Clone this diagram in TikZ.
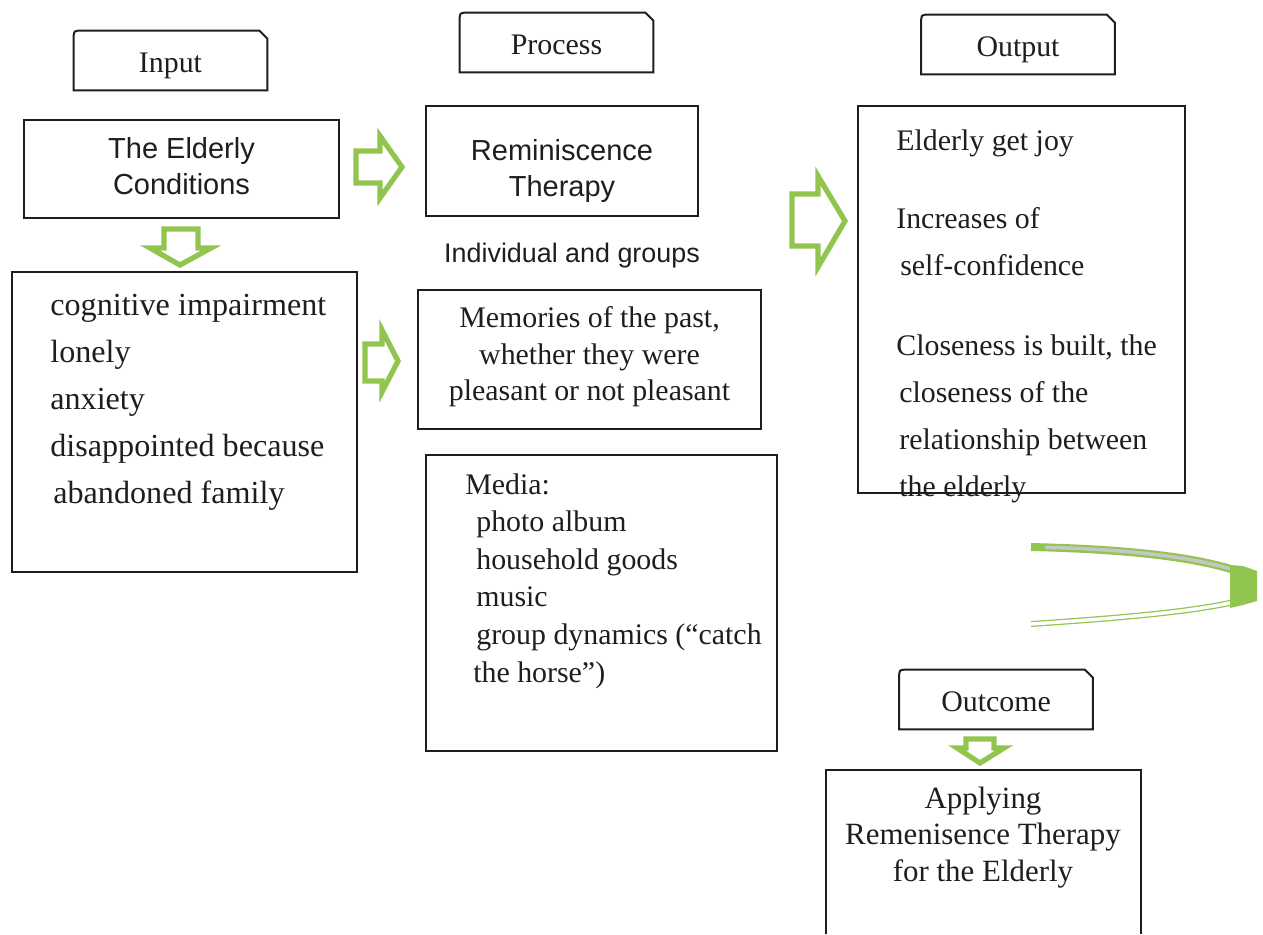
\documentclass[tikz,border=0pt]{standalone}
\usepackage{fontspec}
\setmainfont{Liberation Serif}
\setsansfont{Liberation Sans}
\definecolor{leaf}{RGB}{146,196,80}
\definecolor{ink}{RGB}{30,30,30}
\tikzset{box/.style = {draw, line width = 0.04cm, inner sep = 0}}
\tikzset{tab/.style = {inner sep = 0, minimum width = 3.86cm, minimum height = 1.18cm,
                       text height = 17.5pt, text depth = 3.7pt,
                       font = \fontsize{17}{21}\selectfont}}
\tikzset{hollow/.style = {draw = leaf, line width = 0.105cm, line join = miter}}
\tikzset{sans/.style = {font = \sffamily\fontsize{16.5}{20.5}\selectfont, align = center}}
\tikzset{list/.style = {inner sep = 0, align = left, anchor = north west}}
\newcommand{\tabframe}[1]{\draw [line width = 0.04cm] (#1.south west) -- ([yshift = -0.16cm]#1.north west)
  .. controls (#1.north west) .. ([xshift = 0.16cm]#1.north west) -- ([xshift = -0.16cm]#1.north east)
  -- ([yshift = -0.16cm]#1.north east) -- (#1.south east) -- cycle;}

\begin{document}
\begin{tikzpicture}[x = 0.02cm, y = -0.02cm, color = ink]
  \useasboundingbox (0, 0) rectangle (1263, 934);

  % headers
  \node [tab] (input) at (170.5, 60.5) {Input};
  \tabframe{input}
  \node [tab] (process) at (556.5, 42.5) {Process};
  \tabframe{process}
  \node [tab] (output) at (1018, 44.5) {Output};
  \tabframe{output}
  \node [tab] (outcome) at (996, 699.5) {Outcome};
  \tabframe{outcome}

  % input column
  \node [box, sans, minimum width = 6.3cm, minimum height = 1.96cm] (elderly) at (181.5, 169) {};
  \node [sans] (elderlytext) at (181.5, 166) {The Elderly\\Conditions};
  \node [box, minimum width = 6.9cm, minimum height = 6cm] (symptoms) at (184.5, 422) {};
  \node [list, font = \fontsize{18.3}{26.7}\selectfont] (symptomlist) at (50, 294)
    {cognitive impairment\\lonely\\anxiety\\disappointed because\\\hspace*{0.06cm}abandoned family};

  % process column
  \node [box, minimum width = 5.44cm, minimum height = 2.2cm] (therapy) at (562, 161) {};
  \node [sans] (therapytext) at (562, 171) {Reminiscence\\Therapy};
  \node [sans, font = \sffamily\fontsize{15.3}{19}\selectfont] (mode) at (572, 256) {Individual and groups};
  \node [box, minimum width = 6.86cm, minimum height = 2.78cm] (memories) at (589.5, 359.5) {};
  \node [align = center, font = \fontsize{17}{20.8}\selectfont] (memorytext) at (589.5, 357)
    {Memories of the past,\\whether they were\\pleasant or not pleasant};
  \node [box, minimum width = 7.02cm, minimum height = 5.92cm] (media) at (601.5, 603) {};
  \node [list, font = \fontsize{17}{21.4}\selectfont] (medialist) at (465, 473)
    {Media:\\\hspace*{0.22cm}photo album\\\hspace*{0.22cm}household goods\\\hspace*{0.22cm}music\\
     \hspace*{0.22cm}group dynamics (“catch\\\hspace*{0.16cm}the horse”)};

  % output column
  \node [box, minimum width = 6.54cm, minimum height = 7.74cm] (result) at (1021.5, 299.5) {};
  \node [list, font = \fontsize{17}{26.7}\selectfont] (resultlist) at (896, 129.5)
    {Elderly get joy\\[0.62cm]Increases of\\\hspace*{0.08cm}self-confidence\\[0.66cm]
     Closeness is built, the\\\hspace*{0.06cm}closeness of the\\\hspace*{0.06cm}relationship between\\
     \hspace*{0.06cm}the elderly};

  % outcome
  \node [inner sep = 0, minimum width = 6.3cm, minimum height = 3.28cm] (applying) at (983.5, 852) {};
  \draw [line width = 0.04cm] (applying.south west) -- (applying.north west) -- (applying.north east) -- (applying.south east);
  \node [inner sep = 0, align = center, anchor = north, font = \fontsize{17.6}{20.7}\selectfont] (applytext) at (983, 786.5)
    {Applying\\Remenisence Therapy\\for the Elderly};

  % green arrows
  \draw [hollow] (356, 151) -- (380, 151) -- (380, 136) -- (402, 167) -- (380, 198) -- (380, 183) -- (356, 183) -- cycle;
  \draw [hollow] (164, 229) -- (198, 229) -- (198, 248) -- (211, 248) -- (180, 265) -- (150, 248) -- (164, 248) -- cycle;
  \draw [hollow] (792, 194) -- (818, 194) -- (818, 176) -- (845, 221) -- (818, 267) -- (818, 246) -- (792, 246) -- cycle;
  \draw [hollow] (365, 344) -- (382, 344) -- (382, 330) -- (398, 361) -- (382, 392) -- (382, 381) -- (365, 381) -- cycle;
  \draw [hollow] (966, 739) -- (994, 739) -- (994, 748) -- (1004, 748) -- (980, 763) -- (957, 748) -- (966, 748) -- cycle;

  % curved arrow
  \draw [leaf, line width = 0.16cm] (1031, 547) .. controls (1120, 549) and (1190, 556) .. (1234, 570);
  \draw [gray!45, line width = 0.07cm, shorten < = 0.28cm] (1031, 547) .. controls (1120, 549) and (1190, 556) .. (1234, 570);
  \draw [leaf, line width = 0.025cm, double = white, double distance = 0.07cm] (1031, 624) .. controls (1120, 618) and (1190, 612) .. (1234, 602);
  \fill [leaf] (1230, 565) -- (1243, 566) -- (1257, 571) -- (1257, 601) -- (1243, 605) -- (1230, 608) -- cycle;
\end{tikzpicture}
\end{document}
